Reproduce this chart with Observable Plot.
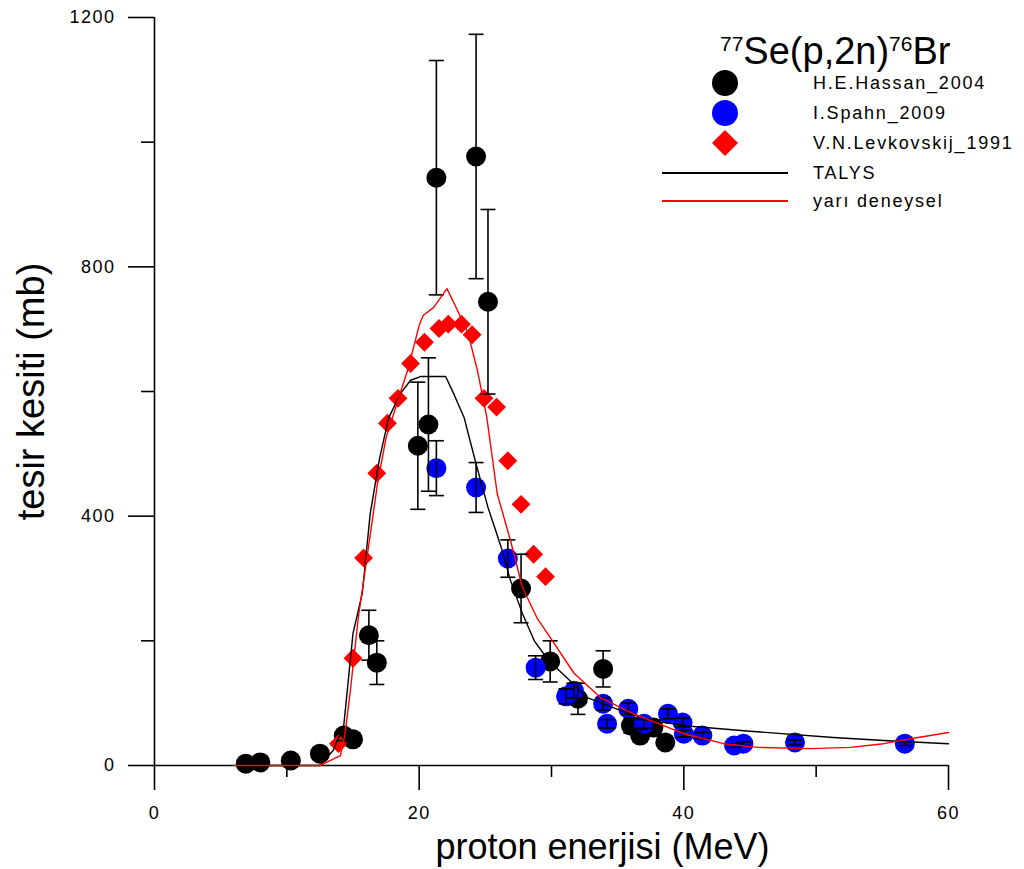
<!DOCTYPE html>
<html><head><meta charset="utf-8">
<script src="https://cdn.jsdelivr.net/npm/d3@7"></script>
<script src="https://cdn.jsdelivr.net/npm/@observablehq/plot@0.6"></script>
<style>
body{margin:0;background:#fff;}
#chart{position:relative;width:1024px;height:869px;}
</style>
</head><body><div id="chart"></div>
<script>
// ---- data ----
// H.E.Hassan_2004
const hassanE   = [6.9, 8.0, 10.3, 12.5, 14.3, 15.0, 16.2, 16.8, 19.9, 20.7, 21.3, 24.3, 25.2, 27.7, 29.9, 32.0, 33.9, 36.0, 36.7, 37.7, 38.6];
const hassanS   = [3, 5, 8, 19, 48, 42, 209, 165, 513, 547, 943, 977, 744, 284, 167, 107, 155, 64, 48, 61, 37];
const hassanErr = [1, 1, 2, 4, 8, 8, 40, 35, 102, 107, 188, 196, 148, 55, 33, 25, 29, 12, 10, 12, 7];
// I.Spahn_2009
const spahnE   = [21.3, 24.3, 26.7, 28.8, 31.1, 31.7, 33.9, 34.2, 35.8, 37.0, 38.8, 39.9, 40.0, 41.4, 43.8, 44.5, 48.4, 56.7];
const spahnS   = [477, 446, 332, 157, 111, 120, 99, 67, 91, 67, 83, 69, 51, 48, 32, 35, 37, 35];
const spahnErr = [44, 40, 30, 19, 12, 12, 10, 7, 9, 7, 8, 7, 5, 5, 3, 3, 4, 3];
// V.N.Levkovskij_1991
const levkE = [13.9, 15.0, 15.8, 16.8, 17.6, 18.4, 19.35, 20.4, 21.5, 22.2, 23.2, 24.0, 24.9, 25.85, 26.7, 27.7, 28.65, 29.55];
const levkS = [35, 172, 333, 469, 549, 589, 645, 679, 701, 708, 708, 691, 589, 575, 489, 419, 339, 303];
// TALYS
const talysE = [6.5, 12.5, 13.5, 14.3, 15.0, 15.7, 16.3, 17.0, 17.7, 18.6, 19.35, 20.1, 22.0, 22.6, 23.4, 23.7, 24.3, 25.2, 26.2, 26.9, 27.8, 28.7, 29.8, 31.4, 32.7, 35.0, 37.5, 40.5, 45.0, 51.3, 55.1, 60];
const talysS = [0, 0, 24, 64, 212, 276, 404, 492, 558, 597, 618, 624, 624, 597, 558, 533, 484, 414, 350, 297, 244, 200, 168, 136, 109, 90, 72, 63, 55, 45, 40, 35];
// yarı deneysel
const semiE = [6.0, 12.5, 14.05, 14.4, 14.8, 15.4, 16.1, 16.85, 17.5, 18.4, 19.2, 20.0, 20.3, 21.1, 22.1, 22.9, 23.7, 24.4, 25.1, 25.9, 26.9, 27.8, 28.9, 30.2, 31.7, 33.7, 36.2, 37.5, 40.0, 43.0, 45.6, 49.6, 52.6, 55.1, 57.7, 60];
const semiS = [0, 0, 16, 51, 120, 237, 340, 452, 526, 586, 639, 706, 722, 735, 765, 730, 693, 634, 560, 436, 361, 286, 237, 196, 148, 109, 83, 72, 51, 35, 29, 27, 29, 35, 45, 53];

const xMajor = [0, 20, 40, 60];
const xMinor = [10, 30, 50];
const yMajor = [0, 400, 800, 1200];
const yMinor = [200, 600, 1000];

const xTitle = "proton enerjisi (MeV)";
const yTitle = "tesir kesiti (mb)";
const titleParts = [["77", true], ["Se(p,2n)", false], ["76", true], ["Br", false]];
const seriesNames = ["H.E.Hassan_2004", "I.Spahn_2009", "V.N.Levkovskij_1991", "TALYS", "yarı deneysel"];

// ---- build tables ----
const hassan = hassanE.map((e, i) => ({e, s: hassanS[i], err: hassanErr[i]}));
const spahn = spahnE.map((e, i) => ({e, s: spahnS[i], err: spahnErr[i]}));
const levk = levkE.map((e, i) => ({e, s: levkS[i]}));
const talys = talysE.map((e, i) => ({e, s: talysS[i]}));
const semi = semiE.map((e, i) => ({e, s: semiS[i]}));
const bars = [...hassan, ...spahn];

const FONT = "Arial, 'Liberation Sans', sans-serif";
const capSymbol = {draw(ctx) { ctx.moveTo(-7.5, 0); ctx.lineTo(7.5, 0); }};
const fmt = d3.format("d");

const chart = Plot.plot({
  width: 1024, height: 869,
  marginLeft: 154, marginRight: 76, marginTop: 17, marginBottom: 104,
  x: {domain: [0, 60]},
  y: {domain: [0, 1200]},
  style: {fontFamily: FONT, background: "white", color: "black"},
  marks: [
    Plot.axisY({ticks: yMajor, tickSize: 26, tickPadding: 13, strokeWidth: 1.6, fontSize: 18, tickFormat: fmt, label: null}),
    Plot.axisY({ticks: yMinor, tickSize: 13, tickFormat: () => "", strokeWidth: 1.6, label: null}),
    Plot.axisX({ticks: xMajor, tickSize: 25, tickPadding: 16, strokeWidth: 1.6, fontSize: 18, tickFormat: fmt, label: null}),
    Plot.axisX({ticks: xMinor, tickSize: 12, tickFormat: () => "", strokeWidth: 1.6, label: null}),
    Plot.ruleX([0], {y1: 0, y2: 1200, strokeWidth: 1.6}),
    Plot.ruleY([0], {x1: 0, x2: 60, strokeWidth: 1.6}),
    Plot.dot(hassan, {x: "e", y: "s", r: 10, fill: "black", stroke: "none"}),
    Plot.dot(spahn, {x: "e", y: "s", r: 10, fill: "#0000ff", stroke: "none"}),
    Plot.dot(levk, {x: "e", y: "s", r: 8.5, symbol: "diamond2", fill: "#ff0000", stroke: "none"}),
    Plot.ruleX(bars, {x: "e", y1: d => d.s - d.err, y2: d => d.s + d.err, stroke: "black", strokeWidth: 1.6}),
    Plot.dot(bars, {x: "e", y: d => d.s + d.err, symbol: capSymbol, stroke: "black", fill: "none", strokeWidth: 1.6}),
    Plot.dot(bars, {x: "e", y: d => d.s - d.err, symbol: capSymbol, stroke: "black", fill: "none", strokeWidth: 1.6}),
    Plot.line(talys, {x: "e", y: "s", stroke: "black", strokeWidth: 1.4}),
    Plot.line(semi, {x: "e", y: "s", stroke: "#ff0000", strokeWidth: 1.4}),
    Plot.text([yTitle], {frameAnchor: "left", dx: -123, rotate: -90, fontSize: 38, textAnchor: "middle", lineAnchor: "middle"}),
    Plot.text([xTitle], {frameAnchor: "bottom", dx: 51, dy: 82, fontSize: 36, textAnchor: "middle", lineAnchor: "middle"})
  ]
});
document.getElementById("chart").appendChild(chart);

const svg = d3.select(chart);
svg.selectAll('g[aria-label="y-axis tick label"], g[aria-label="x-axis tick label"]').attr("letter-spacing", "1.5px");

// ---- legend ----
const lg = svg.append("g").attr("font-family", FONT).attr("fill", "black").attr("text-anchor", "start");
const title = lg.append("text").attr("x", 720).attr("y", 64).attr("font-size", 38);
let prevSup = false;
titleParts.forEach(([t, sup]) => {
  const ts = title.append("tspan").text(t).attr("font-size", sup ? 21 : 38);
  if (sup && !prevSup) ts.attr("dy", -13);
  if (!sup && prevSup) ts.attr("dy", 13);
  prevSup = sup;
});
const rowsY = [83, 113, 143, 173, 201];
const mk = [
  {type: "dot", color: "black"},
  {type: "dot", color: "#0000ff"},
  {type: "diamond", color: "#ff0000"},
  {type: "line", color: "black"},
  {type: "line", color: "#ff0000"}
];
seriesNames.forEach((name, i) => {
  const y = rowsY[i], m = mk[i];
  if (m.type === "dot") lg.append("circle").attr("cx", 725).attr("cy", y).attr("r", 13).attr("fill", m.color);
  else if (m.type === "diamond") lg.append("path").attr("d", `M725,${y-13}L738,${y}L725,${y+13}L712,${y}Z`).attr("fill", m.color);
  else lg.append("line").attr("x1", 662).attr("x2", 788).attr("y1", y).attr("y2", y).attr("stroke", m.color).attr("stroke-width", 2);
  lg.append("text").attr("x", 813).attr("y", y).attr("dy", "0.35em").attr("font-size", 18).attr("letter-spacing", "1.8px").text(name);
});
</script>
</body></html>
